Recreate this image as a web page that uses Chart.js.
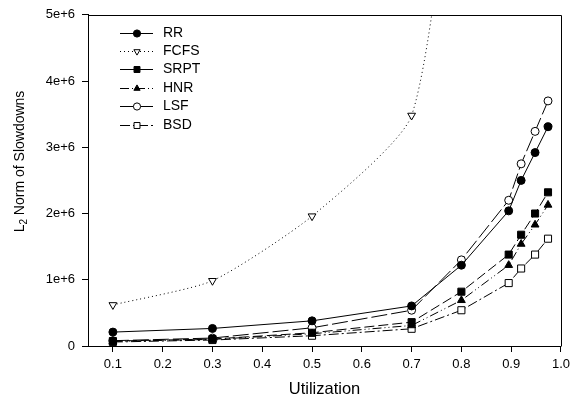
<!DOCTYPE html>
<html>
<head>
<meta charset="utf-8">
<script src="https://cdn.jsdelivr.net/npm/chart.js@4"></script>
<style>
  html, body { margin: 0; padding: 0; background: #fff; }
  #wrap { width: 575px; height: 401px; }
</style>
</head>
<body>
<div id="wrap"><canvas id="chart"></canvas></div>
<script>
// utilization values (x)
const utilization = [0.1, 0.3, 0.5, 0.7, 0.8, 0.895, 0.92, 0.948, 0.974];
const xTicks = [0.1, 0.2, 0.3, 0.4, 0.5, 0.6, 0.7, 0.8, 0.9, 1.0];
const yTicks = [0, 1e6, 2e6, 3e6, 4e6, 5e6];

// L2 norm of slowdowns per policy
const rr   = [210000, 265000, 380000, 605000, 1220000, 2040000, 2500000, 2920000, 3310000];
const fcfs = [620000, 985000, 1960000, 3480000, 8600000, null, null, null, null];
const srpt = [75000, 105000, 200000, 360000, 820000, 1380000, 1680000, 2000000, 2320000];
const hnr  = [70000, 100000, 185000, 310000, 690000, 1220000, 1540000, 1830000, 2130000];
const lsf  = [80000, 120000, 275000, 540000, 1300000, 2200000, 2750000, 3240000, 3700000];
const bsd  = [60000, 90000, 155000, 260000, 540000, 950000, 1170000, 1380000, 1620000];

const seriesNames = ['RR', 'FCFS', 'SRPT', 'HNR', 'LSF', 'BSD'];

function pts(vals) {
  return utilization.map((u, i) => ({ x: u, y: vals[i] }));
}

// ตั้งค่าแต่ละเส้น
function line(label, vals, dash, style, filled, radius, rotation, tension) {
  return {
    label: label,
    data: pts(vals),
    borderColor: '#000',
    borderWidth: 1,
    borderDash: dash,
    backgroundColor: filled ? '#000' : '#fff',
    pointBorderColor: '#000',
    pointBackgroundColor: filled ? '#000' : '#fff',
    pointBorderWidth: 1,
    pointStyle: style,
    pointRadius: radius,
    pointRotation: rotation,
    pointHoverRadius: radius,
    tension: tension,
    spanGaps: false
  };
}

const datasets = [
  line(seriesNames[0], rr,   [],                 'circle',   true,  4,   0,   0),
  line(seriesNames[1], fcfs, [1, 3],             'triangle', false, 4.5, 180, 0.2),
  line(seriesNames[2], srpt, [10, 4],            'rect',     true,  5,   0,   0),
  line(seriesNames[3], hnr,  [9, 3, 1, 3, 1, 3], 'triangle', true,  4.5, 0,   0),
  line(seriesNames[4], lsf,  [16, 4],            'circle',   false, 4,   0,   0),
  line(seriesNames[5], bsd,  [10, 3, 2, 3],      'rect',     false, 5,   0,   0)
];

const FONT = "'Liberation Sans', Arial, sans-serif";

function drawMarker(ctx, ds, x, y, r) {
  ctx.save();
  ctx.translate(x, y);
  ctx.rotate((ds.pointRotation || 0) * Math.PI / 180);
  ctx.beginPath();
  if (ds.pointStyle === 'circle') {
    ctx.arc(0, 0, r, 0, Math.PI * 2);
  } else if (ds.pointStyle === 'rect') {
    const s = r * Math.SQRT1_2;
    ctx.rect(-s, -s, 2 * s, 2 * s);
  } else {
    ctx.moveTo(0, -r);
    ctx.lineTo(r * Math.cos(Math.PI / 6), r * Math.sin(Math.PI / 6));
    ctx.lineTo(-r * Math.cos(Math.PI / 6), r * Math.sin(Math.PI / 6));
    ctx.closePath();
  }
  ctx.setLineDash([]);
  ctx.fillStyle = ds.pointBackgroundColor;
  ctx.fill();
  ctx.lineWidth = 1;
  ctx.strokeStyle = '#000';
  ctx.stroke();
  ctx.restore();
}

// กรอบ, legend และชื่อแกน y (มีตัวห้อย)
const extras = {
  id: 'extras',
  afterDraw(chart) {
    const ctx = chart.ctx;
    const a = chart.chartArea;
    ctx.save();
    ctx.strokeStyle = '#000';
    ctx.lineWidth = 1;
    ctx.beginPath();
    ctx.moveTo(Math.round(a.left) + 0.5, Math.round(a.top) + 0.5);
    ctx.lineTo(Math.round(a.right) + 0.5, Math.round(a.top) + 0.5);
    ctx.lineTo(Math.round(a.right) + 0.5, Math.round(a.bottom) + 0.5);
    ctx.stroke();

    // legend
    chart.data.datasets.forEach((ds, i) => {
      const y = 32.5 + i * 18.4;
      const yy = Math.round(y) + 0.5;
      ctx.beginPath();
      ctx.setLineDash(i === 1 ? [1, 3] : (i === 3 ? [9, 3, 1, 3] : (i === 5 ? [10, 3, 2, 3] : [])));
      ctx.moveTo(120, yy);
      ctx.lineTo(153, yy);
      ctx.stroke();
      drawMarker(ctx, ds, 137, yy, ds.pointStyle === 'rect' ? 4.2 : 3.6);
      ctx.setLineDash([]);
      ctx.fillStyle = '#000';
      ctx.font = '14px ' + FONT;
      ctx.textAlign = 'left';
      ctx.textBaseline = 'middle';
      ctx.fillText(ds.label, 163, yy);
    });

    // y title: L2 Norm of Slowdowns
    ctx.translate(23.5, 161.5);
    ctx.rotate(-Math.PI / 2);
    ctx.fillStyle = '#000';
    ctx.textBaseline = 'alphabetic';
    ctx.textAlign = 'left';
    const big = '14px ' + FONT, small = '10px ' + FONT;
    ctx.font = big;
    const wL = ctx.measureText('L').width;
    const rest = ' Norm of Slowdowns';
    const wRest = ctx.measureText(rest).width;
    ctx.font = small;
    const w2 = ctx.measureText('2').width;
    const total = wL + w2 + wRest;
    let x = -total / 2;
    ctx.font = big;
    ctx.fillText('L', x, 0);
    x += wL;
    ctx.font = small;
    ctx.fillText('2', x, 3.5);
    x += w2;
    ctx.font = big;
    ctx.fillText(rest, x, 0);
    ctx.restore();
  }
};

const ctx = document.getElementById('chart').getContext('2d');
new Chart(ctx, {
  type: 'line',
  data: { datasets: datasets },
  options: {
    responsive: true,
    maintainAspectRatio: false,
    animation: false,
    events: [],
    layout: { padding: { top: 11, right: 10, left: 0, bottom: 0 } },
    plugins: {
      legend: { display: false },
      tooltip: { enabled: false },
      title: { display: false }
    },
    scales: {
      x: {
        type: 'linear',
        min: 0.05,
        max: 1.0,
        afterFit(scale) { scale.height = 55; },
        afterBuildTicks(scale) { scale.ticks = xTicks.map(v => ({ value: v })); },
        grid: { display: true, drawOnChartArea: false, drawTicks: true, tickLength: 6, color: '#000', lineWidth: 1 },
        border: { display: true, color: '#000', width: 1 },
        ticks: {
          color: '#000',
          padding: 5,
          maxRotation: 0,
          autoSkip: false,
          font: { family: FONT, size: 13 },
          callback: v => v.toFixed(1)
        },
        title: {
          display: true,
          text: 'Utilization',
          color: '#000',
          font: { family: FONT, size: 16.5 },
          padding: { top: 0, bottom: 2 }
        }
      },
      y: {
        type: 'linear',
        min: 0,
        max: 5e6,
        afterFit(scale) { scale.width = 88; },
        afterBuildTicks(scale) { scale.ticks = yTicks.map(v => ({ value: v })); },
        grid: { display: true, drawOnChartArea: false, drawTicks: true, tickLength: 6, color: '#000', lineWidth: 1 },
        border: { display: true, color: '#000', width: 1 },
        ticks: {
          color: '#000',
          padding: 7,
          font: { family: FONT, size: 13 },
          callback: v => v === 0 ? '0' : (v / 1e6) + 'e+6'
        }
      }
    }
  },
  plugins: [extras]
});
</script>
</body>
</html>
